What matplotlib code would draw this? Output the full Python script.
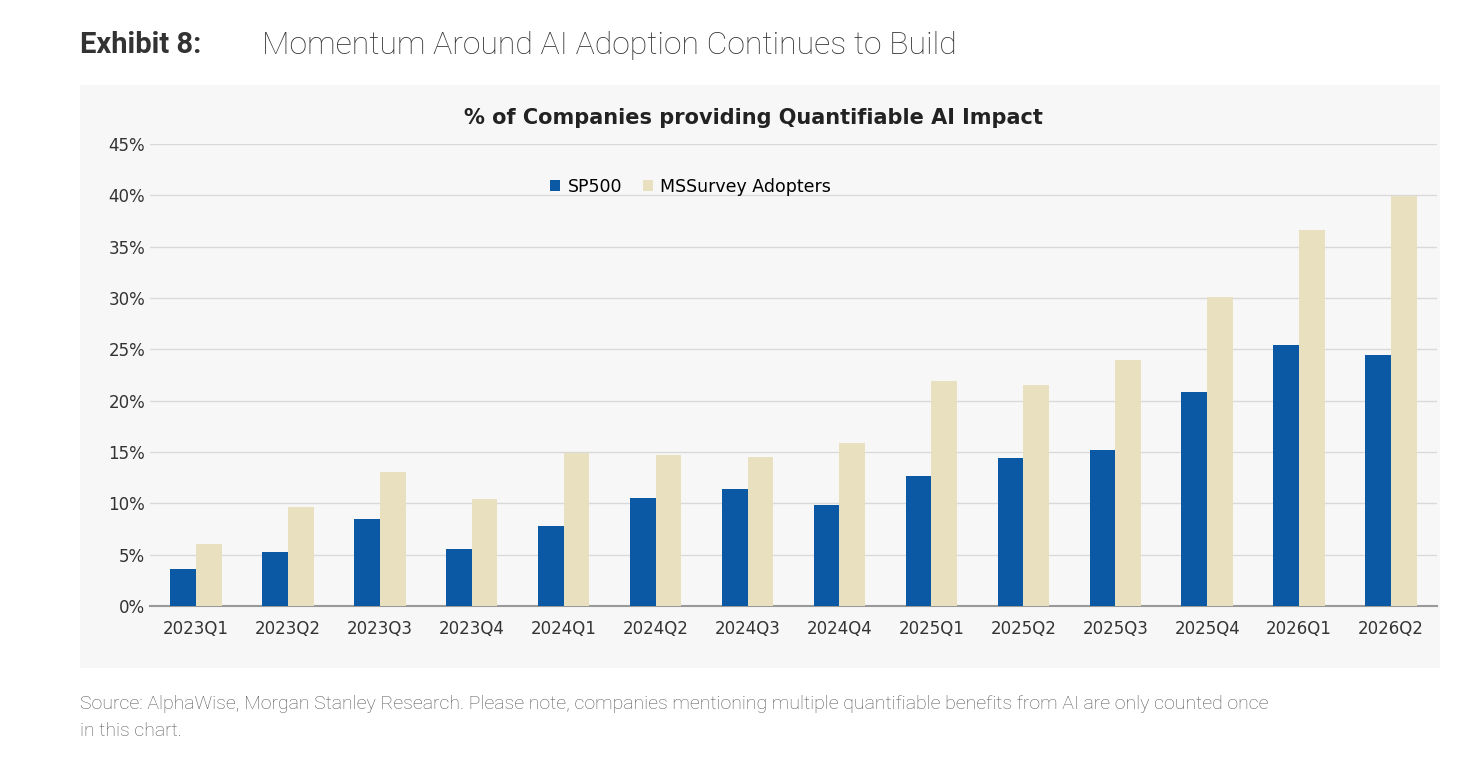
import matplotlib.pyplot as plt
import numpy as np

quarters = ["2023Q1", "2023Q2", "2023Q3", "2023Q4", "2024Q1", "2024Q2", "2024Q3",
            "2024Q4", "2025Q1", "2025Q2", "2025Q3", "2025Q4", "2026Q1", "2026Q2"]
sp500 = [3.6, 5.3, 8.5, 5.6, 7.8, 10.5, 11.4, 9.8, 12.7, 14.4, 15.2, 20.8, 25.4, 24.4]
mssurvey = [6.0, 9.6, 13.1, 10.4, 14.9, 14.7, 14.5, 15.9, 21.9, 21.5, 24.0, 30.1, 36.6, 39.9]

fig = plt.figure(figsize=(14.6, 7.8), dpi=100)
fig.patch.set_facecolor("white")

# light panel behind the chart
bg = fig.add_axes([80 / 1460, 1 - 668 / 780, 1360 / 1460, 583 / 780], zorder=-1)
bg.set_facecolor("#f7f7f7")
bg.set_xticks([])
bg.set_yticks([])
for s in bg.spines.values():
    s.set_visible(False)

ax = fig.add_axes([150 / 1460, 1 - 606 / 780, 1287 / 1460, 462 / 780], zorder=1)
ax.set_facecolor("none")

x = np.arange(len(quarters))
w = 0.28
ax.bar(x - w / 2, sp500, w, color="#0b59a4", label="SP500", zorder=3)
ax.bar(x + w / 2, mssurvey, w, color="#e9e0bf", label="MSSurvey Adopters", zorder=3)

ax.set_ylim(0, 45)
ax.set_xlim(-0.5, len(quarters) - 0.5)
ax.set_yticks(range(0, 46, 5))
ax.set_yticklabels([f"{v}%" for v in range(0, 46, 5)])
ax.set_xticks(x)
ax.set_xticklabels(quarters)
ax.tick_params(length=0, labelsize=12, colors="#333333")
ax.tick_params(axis="x", pad=10)
ax.grid(axis="y", color="#d9d9d9", lw=1, zorder=0)
for s in ["top", "right", "left"]:
    ax.spines[s].set_visible(False)
ax.spines["bottom"].set_color("#999999")
ax.spines["bottom"].set_linewidth(1.5)

ax.legend(loc="upper center", bbox_to_anchor=(0.42, 0.96), ncol=2, frameon=False,
          fontsize=12.5, handlelength=0.6, handleheight=0.6, columnspacing=1.2,
          handletextpad=0.4)

fig.text(753 / 1460, 1 - 118 / 780, "% of Companies providing Quantifiable AI Impact",
         ha="center", va="center", fontsize=15, fontweight="bold", color="#222222")
fig.text(80 / 1460, 1 - 45 / 780, "Exhibit 8:", ha="left", va="center",
         fontsize=21, fontweight="bold", color="#333333", family="Roboto")
fig.text(262 / 1460, 1 - 45 / 780, "Momentum Around AI Adoption Continues to Build",
         ha="left", va="center", fontsize=23, color="#333333", family="Roboto",
         fontweight="light")
fig.text(80 / 1460, 1 - 704 / 780,
         "Source: AlphaWise, Morgan Stanley Research. Please note, companies mentioning multiple quantifiable benefits from AI are only counted once",
         ha="left", va="center", fontsize=14, color="#555555", family="Roboto",
         fontweight="light")
fig.text(80 / 1460, 1 - 731 / 780, "in this chart.", ha="left", va="center",
         fontsize=14, color="#555555", family="Roboto", fontweight="light")

fig.savefig("out.png", dpi=100)
